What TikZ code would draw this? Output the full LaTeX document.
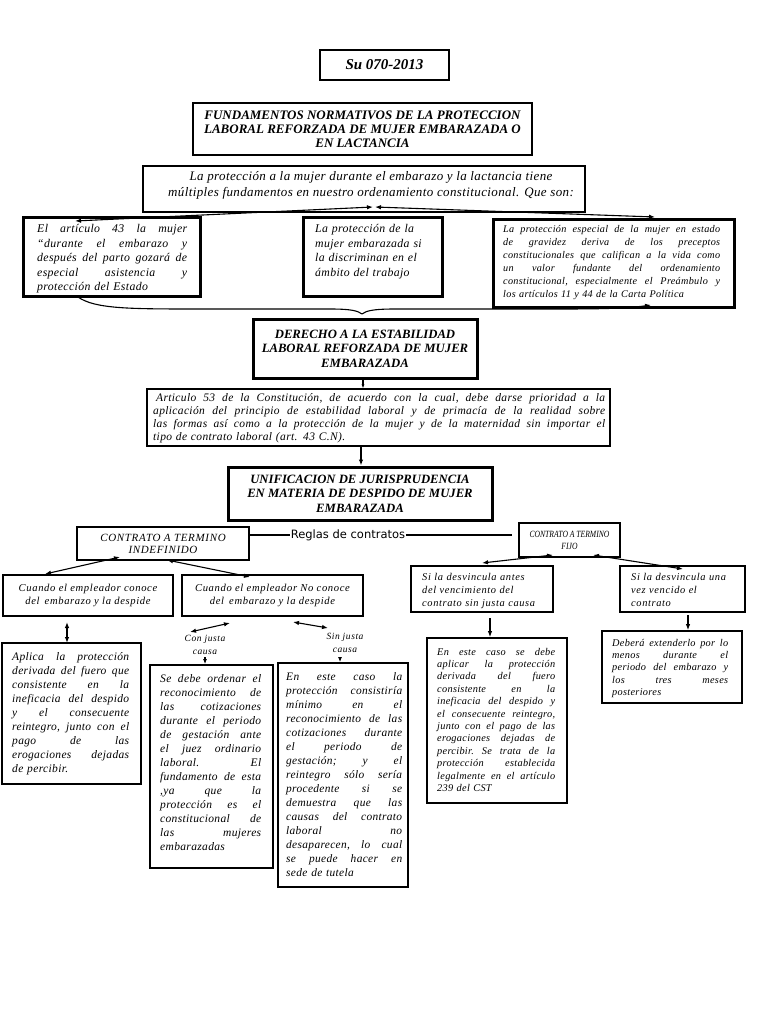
\documentclass[tikz,border=0pt]{standalone}
\usepackage{fontspec}
\setmainfont{Liberation Serif}
\newfontfamily\bodyf{Liberation Serif}[LetterSpace=3]
\newfontfamily\widef{Liberation Serif}[LetterSpace=6]
\newfontfamily\condf{Liberation Serif}[FakeStretch=0.8]
\newfontfamily\sansf{DejaVu Sans}
\usetikzlibrary{arrows.meta,calc}
\newcommand\fsz[2]{\fontsize{#1}{#2}\selectfont}
\ExplSyntaxOn
\seq_new:N \l_jl_words_seq
\NewDocumentCommand\jl{m}{
  \seq_set_split:Nnn \l_jl_words_seq {~} {#1}
  \makebox[\hsize][s]{\seq_use:Nn \l_jl_words_seq {\hfill}}\\
}
\ExplSyntaxOff
\begin{document}
\begin{tikzpicture}[x=1pt,y=-1pt,
 bx/.style={draw, line width=2.6pt, inner sep=0pt, align=center},
 mb/.style={draw, line width=1.8pt, inner sep=0pt, align=center},
 tb/.style={draw, line width=1.2pt, inner sep=0pt, align=center},
 tx/.style={inner sep=0pt, anchor=base west, align=left},
 ct/.style={inner sep=0pt, align=center},
 bi/.style={font=\bfseries\itshape\fsz{12.7}{14.5}},
 arr/.style={line width=1.1pt, -{Latex[length=6pt,width=4.5pt]}},
 darr/.style={line width=1.1pt, {Latex[length=6pt,width=4.5pt]}-{Latex[length=6pt,width=4.5pt]}},
]
\fill[white] (0,0) rectangle (768,1024);
\useasboundingbox (0,0) rectangle (768,1024);

% title
\node[bx, line width=2.8pt, minimum width=129pt, minimum height=30pt, font=\bfseries\itshape\fsz{15}{18}] (su) at (384.5,65) {Su 070-2013};
\node[bx, line width=2.4pt, minimum width=339pt, minimum height=52pt, font=\bfseries\itshape\fsz{13}{14}] (fund) at (362.5,129) {FUNDAMENTOS NORMATIVOS DE LA PROTECCION\\LABORAL REFORZADA DE MUJER EMBARAZADA O\\EN LACTANCIA};

% intro
\node[tb, minimum width=442pt, minimum height=46pt] (intro) at (364,189) {};
\node[ct, font=\bodyf\itshape\fsz{13}{16}] (introt) at (371,185) {La protección a la mujer durante el embarazo y la lactancia tiene\\múltiples fundamentos en nuestro ordenamiento constitucional. Que son:};

% three boxes
\node[bx, line width=3pt, minimum width=177pt, minimum height=78pt] (lb) at (111.5,257) {};
\node[tx, text width=150pt, font=\bodyf\itshape\fsz{11.8}{14.5}] (lbt) at (37,233) {\jl{El artículo 43 la mujer}\jl{“durante el embarazo y}\jl{después del parto gozará de}\jl{especial asistencia y}protección del Estado};

\node[bx, line width=3pt, minimum width=139pt, minimum height=78pt] (mbx) at (372.5,257) {};
\node[tx, text width=122pt, font=\bodyf\itshape\fsz{11.8}{14.5}] (mbt) at (315,233) {La protección de la\\mujer embarazada si\\la discriminan en el\\ámbito del trabajo};

\node[bx, line width=3pt, minimum width=241pt, minimum height=87pt] (rb) at (613.5,263.5) {};
\node[tx, text width=217pt, font=\bodyf\itshape\fsz{10.2}{13}] (rbt) at (503,233) {\jl{La protección especial de la mujer en estado}\jl{de gravidez deriva de los preceptos}\jl{constitucionales que califican a la vida como}\jl{un valor fundante del ordenamiento}\jl{constitucional, especialmente el Preámbulo y}los artículos 11 y 44 de la Carta Política};

% derecho
\node[bx, line width=3pt, minimum width=224pt, minimum height=59pt, bi] (der) at (365,348.5) {DERECHO A LA ESTABILIDAD\\LABORAL REFORZADA DE MUJER\\EMBARAZADA};

% articulo
\node[tb, minimum width=463pt, minimum height=57pt] (art) at (378.5,417.5) {};
\node[tx, text width=452pt, font=\bodyf\itshape\fsz{11.5}{13.3}] (artt) at (153,401) {\jl{\hspace*{3pt}Articulo 53 de la Constitución, de acuerdo con la cual, debe darse prioridad a la}\jl{aplicación del principio de estabilidad laboral y de primacía de la realidad sobre}\jl{las formas así como a la protección de la mujer y de la maternidad sin importar el}tipo de contrato laboral (art. 43 C.N).};

% unificacion
\node[bx, line width=3pt, minimum width=264pt, minimum height=53pt, bi] (unif) at (360,493.5) {UNIFICACION DE JURISPRUDENCIA\\EN MATERIA DE DESPIDO DE MUJER\\EMBARAZADA};

% contratos
\node[inner sep=1pt, font=\sansf\fsz{11.5}{13}] (reg) at (348,535) {Reglas de contratos};
\node[tb, minimum width=172pt, minimum height=33pt, font=\widef\itshape\fsz{11}{12}] (indef) at (163,543.5) {CONTRATO A TERMINO\\INDEFINIDO};
\node[tb, minimum width=101pt, minimum height=34pt, font=\condf\itshape\fsz{9.5}{12}] (fijo) at (569.5,540) {CONTRATO A TERMINO\\FIJO};

\node[mb, minimum width=170pt, minimum height=41pt, font=\widef\itshape\fsz{10.6}{12.5}] (cc) at (88,595.5) {Cuando el empleador conoce\\del\, embarazo y la despide};
\node[mb, minimum width=181pt, minimum height=41pt, font=\widef\itshape\fsz{10.6}{12.5}] (cn) at (272.5,595.5) {Cuando el empleador No conoce\\del\, embarazo y la despide};

\node[mb, minimum width=142pt, minimum height=46pt] (sa) at (482,589) {};
\node[tx, text width=128pt, font=\widef\itshape\fsz{10.4}{13}] (sat) at (422,580) {Si la desvincula antes\\del vencimiento del\\contrato sin justa causa};
\node[mb, minimum width=125pt, minimum height=46pt] (sv) at (682.5,589) {};
\node[tx, text width=110pt, font=\widef\itshape\fsz{10.4}{13}] (svt) at (631,580) {Si la desvincula una\\vez vencido el\\contrato};

% bottom left
\node[mb, minimum width=139pt, minimum height=141pt] (ap) at (71.5,713.5) {};
\node[tx, text width=117pt, font=\bodyf\itshape\fsz{11.5}{14}] (apt) at (12,660) {\jl{Aplica la protección}\jl{derivada del fuero que}\jl{consistente en la}\jl{ineficacia del despido}\jl{y el consecuente}\jl{reintegro, junto con el}\jl{pago de las}\jl{erogaciones dejadas}de percibir.};

\node[ct, font=\widef\itshape\fsz{9.5}{12.5}] (cj) at (205,645) {Con justa\\causa};
\node[ct, font=\widef\itshape\fsz{9.5}{12.5}] (sj) at (345,643) {Sin justa\\causa};

\node[mb, minimum width=123pt, minimum height=203pt] (sd) at (211.5,766.5) {};
\node[tx, text width=101pt, font=\bodyf\itshape\fsz{11.5}{14}] (sdt) at (160,682) {\jl{Se debe ordenar el}\jl{reconocimiento de}\jl{las cotizaciones}\jl{durante el periodo}\jl{de gestación ante}\jl{el juez ordinario}\jl{laboral. El}\jl{fundamento de esta}\jl{,ya que la}\jl{protección es el}\jl{constitucional de}\jl{las mujeres}embarazadas};

\node[mb, minimum width=130pt, minimum height=224pt] (es) at (343,775) {};
\node[tx, text width=116pt, font=\bodyf\itshape\fsz{11.4}{14}] (est) at (286,680) {\jl{En este caso la}\jl{protección consistiría}\jl{mínimo en el}\jl{reconocimiento de las}\jl{cotizaciones durante}\jl{el periodo de}\jl{gestación; y el}\jl{reintegro sólo sería}\jl{procedente si se}\jl{demuestra que las}\jl{causas del contrato}\jl{laboral no}\jl{desaparecen, lo cual}\jl{se puede hacer en}sede de tutela};

% bottom right
\node[mb, minimum width=140pt, minimum height=165pt] (ed) at (497,720.5) {};
\node[tx, text width=118pt, font=\bodyf\itshape\fsz{10.3}{12.4}] (edt) at (437,655) {\jl{En este caso se debe}\jl{aplicar la protección}\jl{derivada del fuero}\jl{consistente en la}\jl{ineficacia del despido y}\jl{el consecuente reintegro,}\jl{junto con el pago de las}\jl{erogaciones dejadas de}\jl{percibir. Se trata de la}\jl{protección establecida}\jl{legalmente en el artículo}239 del CST};

\node[mb, minimum width=140pt, minimum height=72pt] (db) at (672,667) {};
\node[tx, text width=116pt, font=\bodyf\itshape\fsz{10.3}{12.4}] (dbt) at (612,646) {\jl{Deberá extenderlo por lo}\jl{menos durante el}\jl{periodo del embarazo y}\jl{los tres meses}posteriores};

% ---- connectors ----
\coordinate (ic1) at (373,207);
\coordinate (ic2) at (375,207);
\coordinate (lbin) at (75,221);
\coordinate (rbin) at (655,217);
\draw[darr] (lbin) -- (ic1);
\draw[darr] (ic2) -- (rbin);

\coordinate (bl) at (78,297);
\coordinate (bc) at (362,314);
\coordinate (br) at (651,305);
\draw[line width=1.1pt] (bl) .. controls (95,309) and (130,309) .. (200,309) -- (330,309) .. controls (352,309) and (358,311) .. (bc);
\draw[arr] (bc) .. controls (366,311) and (372,309) .. (395,309) -- (560,309) .. controls (610,309) and (630,308) .. (br);

\draw[line width=1.1pt, -{Latex[length=4pt,width=3pt]}] (der.south -| 363,0) -- (art.north -| 363,0);
\draw[arr] (art.south -| 361,0) -- (unif.north -| 361,0);

\draw[line width=1.1pt] (reg.west -| indef.east) -- (reg.west);
\coordinate (rg2) at (512,535);
\draw[line width=1.1pt] (reg.east) -- (rg2);

\coordinate (a1) at (120,557); \coordinate (a2) at (45,574);
\coordinate (a3) at (167,560); \coordinate (a4) at (250,577);
\draw[darr] (a1) -- (a2);
\draw[darr] (a3) -- (a4);

\coordinate (b1) at (553,555); \coordinate (b2) at (482,563);
\coordinate (b3) at (593,555); \coordinate (b4) at (683,569);
\draw[darr] (b1) -- (b2);
\draw[darr] (b3) -- (b4);

\coordinate (c1) at (67,622); \coordinate (c2) at (67,643);
\draw[darr] (c1) -- (c2);

\coordinate (d1) at (190,632); \coordinate (d2) at (230,623);
\draw[darr] (d1) -- (d2);
\coordinate (d3) at (205,657);
\draw[line width=1.1pt, -{Latex[length=5pt,width=4pt]}] (d3) -- (sd.north -| d3);

\coordinate (e1) at (293,622); \coordinate (e2) at (328,628);
\draw[darr] (e1) -- (e2);
\coordinate (e3) at (340,657);
\draw[line width=1.1pt, -{Latex[length=5pt,width=4pt]}] (e3) -- (es.north -| e3);

\coordinate (f1) at (490,618);
\draw[arr] (f1) -- (ed.north -| f1);
\coordinate (g1) at (688,615);
\draw[arr] (g1) -- (db.north -| g1);
\end{tikzpicture}
\end{document}
